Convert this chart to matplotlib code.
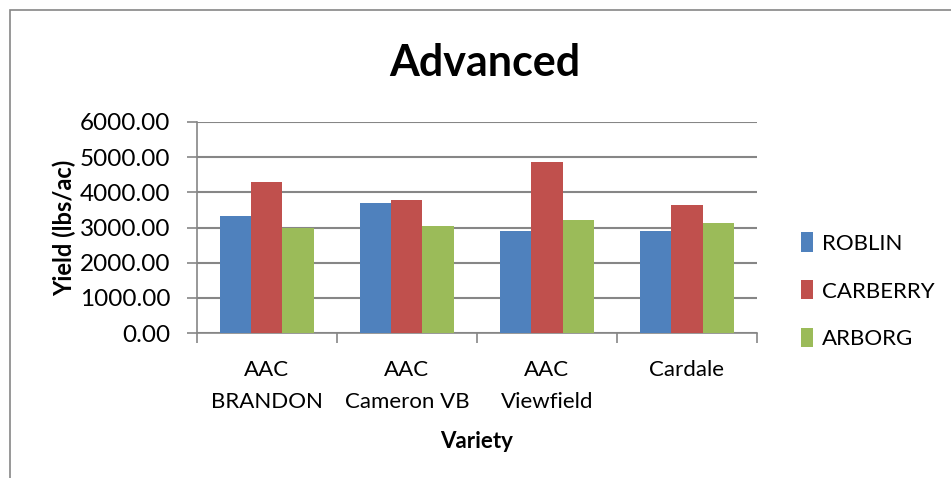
import matplotlib
matplotlib.use("Agg")
import matplotlib.pyplot as plt
import numpy as np
from matplotlib.patches import Rectangle

plt.rcParams['font.family'] = ['Lato', 'DejaVu Sans']

varieties = ["AAC\nBRANDON", "AAC\nCameron VB", "AAC\nViewfield", "Cardale"]
roblin = [3340, 3690, 2890, 2910]
carberry = [4290, 3770, 4870, 3630]
arborg = [2990, 3050, 3210, 3130]

series = [("ROBLIN", roblin, "#4f81bd"),
          ("CARBERRY", carberry, "#c0504d"),
          ("ARBORG", arborg, "#9bbb59")]

fig = plt.figure(figsize=(9.51, 4.78), dpi=100)
ax = fig.add_axes([0.207, 0.303, 0.589, 0.442])

x = np.arange(len(varieties))
w = 1 / 4.5
for i, (name, vals, col) in enumerate(series):
    ax.bar(x + (i - 1) * w, vals, w, color=col, label=name, zorder=3)

ax.set_xlim(-0.5, len(varieties) - 0.5)
ax.set_ylim(0, 6000)
ax.set_yticks(np.arange(0, 6001, 1000))
ax.set_yticklabels([f"{v:.2f}" for v in range(0, 6001, 1000)], fontsize=17.5)
ax.yaxis.grid(True, color="#868686", linewidth=1.5, zorder=0)

ax.set_xticks(np.arange(-0.5, len(varieties), 1))
ax.set_xticklabels([])
ax.set_xticks(x, minor=True)
ax.set_xticklabels(varieties, minor=True, fontsize=16, linespacing=1.75,
                   va="top")
ax.tick_params(axis="x", which="minor", length=0, pad=19)
ax.tick_params(axis="x", which="major", length=7, color="#868686", width=1.2)
ax.tick_params(axis="y", length=7, color="#868686", width=1.2, pad=12)

for s in ["top", "right"]:
    ax.spines[s].set_visible(False)
for s in ["left", "bottom"]:
    ax.spines[s].set_color("#868686")
    ax.spines[s].set_linewidth(1.2)

ax.set_ylabel("Yield (lbs/ac)", fontsize=17, fontweight="bold", labelpad=3)
ax.set_xlabel("Variety", fontsize=16, fontweight="bold", labelpad=14)
fig.text(0.51, 0.868, "Advanced", ha="center", va="center",
         fontsize=31, fontweight="bold")

ax.legend(loc="center left", bbox_to_anchor=(1.043, 0.20), frameon=False,
          fontsize=16, handlelength=0.55, handleheight=0.95, handletextpad=0.4,
          labelspacing=1.2)

fig.patches.append(Rectangle((10 / 951, -0.1), 1.2, 1 - 10 / 478 + 0.1,
                             transform=fig.transFigure, fill=False,
                             edgecolor="#868686", linewidth=1.2))

fig.savefig("out.png", dpi=100)
